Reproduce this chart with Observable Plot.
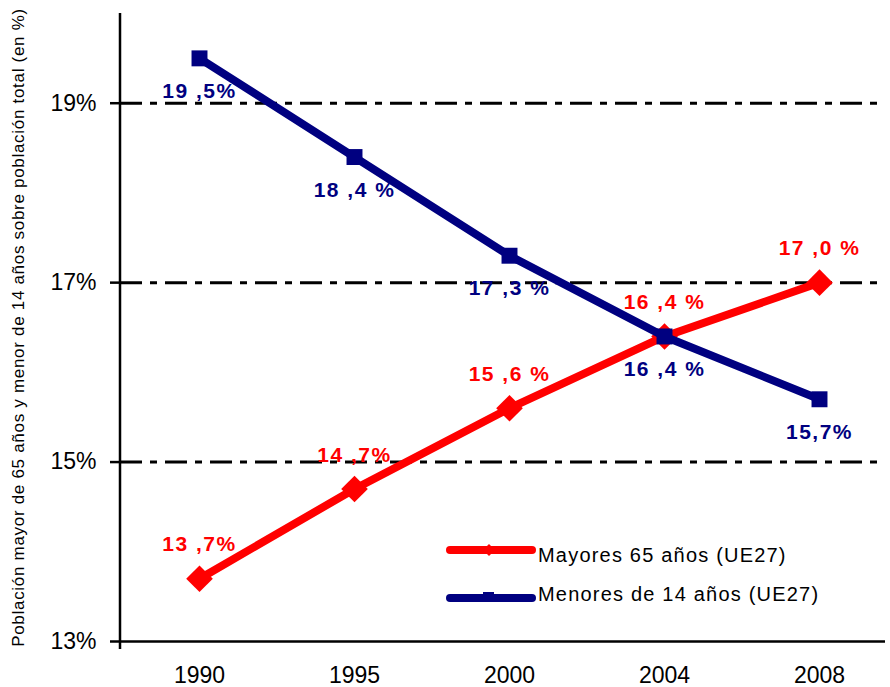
<!DOCTYPE html>
<html><head><meta charset="utf-8">
<script src="https://cdn.jsdelivr.net/npm/d3@7"></script>
<script src="https://cdn.jsdelivr.net/npm/@observablehq/plot@0.6"></script>
<style>
body{margin:0;background:#fff;}
#chart{position:relative;width:890px;height:687px;font-family:"Liberation Sans",Arial,sans-serif;}
#chart svg{font-family:"Liberation Sans",Arial,sans-serif;}
g[aria-label="y-axis tick label"]{font-size:23px;}
g[aria-label="x-axis tick label"]{font-size:23px;}
text[aria-label="data label"]{letter-spacing:1.5px;}
text[aria-label="y title"]{letter-spacing:0.7px;}
#legend{position:absolute;left:0;top:0;pointer-events:none;}
#legend text{font-family:"Liberation Sans",Arial,sans-serif;font-size:20px;letter-spacing:1.2px;fill:#000;}
</style></head>
<body><div id="chart"></div>
<script>
const years = ["1990", "1995", "2000", "2004", "2008"];
const mayores = [13.7, 14.7, 15.6, 16.4, 17.0];
const menores = [19.5, 18.4, 17.3, 16.4, 15.7];
const mayoresLabels = ["13 ,7%", "14 ,7%", "15 ,6 %", "16 ,4 %", "17 ,0 %"];
const menoresLabels = ["19 ,5%", "18 ,4 %", "17 ,3 %", "16 ,4 %", "15,7%"];
const yTicks = [13, 15, 17, 19];
const gridValues = [15, 17, 19];
const seriesNames = ["Mayores 65 años (UE27)", "Menores de 14 años (UE27)"];
const yTitle = "Población mayor de 65 años y menor de 14 años sobre población total (en %)";

const RED = "#FF0000", BLUE = "#000080";

const redRows = years.map((y, i) => ({year: y, value: mayores[i], label: mayoresLabels[i]}));
const blueRows = years.map((y, i) => ({year: y, value: menores[i], label: menoresLabels[i]}));

function yAxisLine(index, scales, values, dims) {
  const l = document.createElementNS("http://www.w3.org/2000/svg", "line");
  const x = dims.marginLeft;
  l.setAttribute("x1", x); l.setAttribute("x2", x);
  l.setAttribute("y1", dims.marginTop);
  l.setAttribute("y2", dims.height - dims.marginBottom + 8);
  l.setAttribute("stroke", "black");
  l.setAttribute("stroke-width", 2.5);
  return l;
}

const plot = Plot.plot({
  width: 890,
  height: 687,
  marginLeft: 120,
  marginRight: 5,
  marginTop: 13,
  marginBottom: 46,
  x: {type: "point", domain: years, range: [197, 820], padding: 0},
  y: {domain: [13, 20]},
  marks: [
    Plot.ruleY(gridValues, {stroke: "black", strokeWidth: 3, strokeDasharray: "22,8,7,8"}),
    Plot.ruleY([13], {stroke: "black", strokeWidth: 2.5}),
    Plot.line(redRows, {x: "year", y: "value", stroke: RED, strokeWidth: 8}),
    Plot.dot(redRows, {x: "year", y: "value", symbol: "diamond2", r: 12, fill: RED}),
    Plot.line(blueRows, {x: "year", y: "value", stroke: BLUE, strokeWidth: 8}),
    Plot.dot(blueRows, {x: "year", y: "value", symbol: "square", r: 9, fill: BLUE}),
    Plot.text(redRows, {x: "year", y: "value", text: "label", dy: -34, fill: RED, fontWeight: "bold", fontSize: 21, ariaLabel: () => "data label"}),
    Plot.text(blueRows, {x: "year", y: "value", text: "label", dy: 33, fill: BLUE, fontWeight: "bold", fontSize: 21, ariaLabel: () => "data label"}),
    Plot.axisY({ticks: yTicks, tickFormat: d => d + "%", tickSize: 10, tickPadding: 14, strokeWidth: 2.5, label: null, fill: "black", color: "black"}),
    Plot.axisX({tickSize: 0, tickPadding: 25, label: null}),
    Plot.text([yTitle], {frameAnchor: "left", textAnchor: "middle", lineAnchor: "middle", rotate: -90, dx: -102, fontSize: 17, fill: "black", ariaLabel: () => "y title"}),
    yAxisLine
  ]
});

const chart = document.getElementById("chart");
chart.appendChild(plot);

// Legend overlay
const leg = d3.create("svg").attr("id", "legend").attr("width", 890).attr("height", 687);
const legendItems = [
  {name: seriesNames[0], color: RED, symbol: "diamond", ly: 550, ty: 562},
  {name: seriesNames[1], color: BLUE, symbol: "square", ly: 598, ty: 601}
];
legendItems.forEach(it => {
  leg.append("line").attr("x1", 450).attr("x2", 532).attr("y1", it.ly).attr("y2", it.ly)
    .attr("stroke", it.color).attr("stroke-width", 8).attr("stroke-linecap", "round");
  if (it.symbol === "diamond") {
    leg.append("path").attr("d", d3.symbol(d3.symbolDiamond2, 90)()).attr("transform", `translate(489,${it.ly})`).attr("fill", it.color);
  } else {
    leg.append("rect").attr("x", 483).attr("y", it.ly - 6).attr("width", 11).attr("height", 9).attr("fill", it.color);
  }
  leg.append("text").attr("x", 538).attr("y", it.ty).text(it.name);
});
chart.appendChild(leg.node());
</script></body></html>
